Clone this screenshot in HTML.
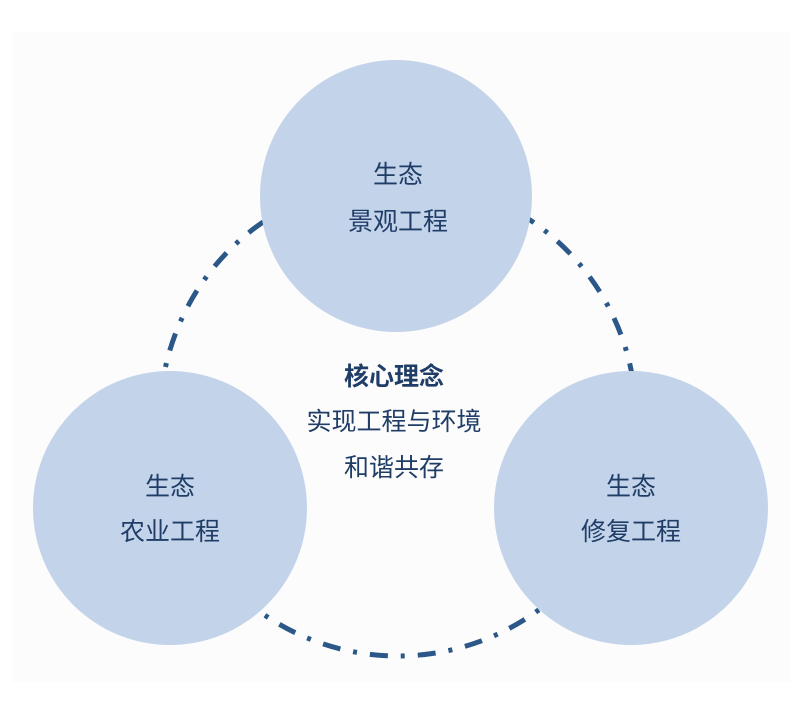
<!DOCTYPE html>
<html><head><meta charset="utf-8"><style>
html,body{margin:0;padding:0;background:#fff;}
svg{display:block;}
text{font-family:"Liberation Sans","Noto Sans CJK SC",sans-serif;font-size:25px;fill:#1f3d66;text-anchor:middle;dominant-baseline:central;}
</style></head><body>
<svg width="802" height="719" viewBox="0 0 802 719">
<rect x="0" y="0" width="802" height="719" fill="#fff"/>
<rect x="12" y="32" width="778" height="650" fill="#fcfcfd"/>
<circle cx="398" cy="418" r="238" fill="none" stroke="#2b5888" stroke-width="5" stroke-dasharray="18 13 4 13"/>
<circle cx="396" cy="196" r="136" fill="#c3d4ea"/>
<circle cx="170" cy="508" r="137" fill="#c3d4ea"/>
<circle cx="631" cy="508" r="137" fill="#c3d4ea"/>
<text x="398" y="175">生态</text>
<text x="398" y="222">景观工程</text>
<text x="170" y="487">生态</text>
<text x="170" y="532">农业工程</text>
<text x="631" y="487">生态</text>
<text x="631" y="532">修复工程</text>
<text x="394" y="377" style="font-weight:bold">核心理念</text>
<text x="394" y="422">实现工程与环境</text>
<text x="394" y="468">和谐共存</text>
</svg>
</body></html>
